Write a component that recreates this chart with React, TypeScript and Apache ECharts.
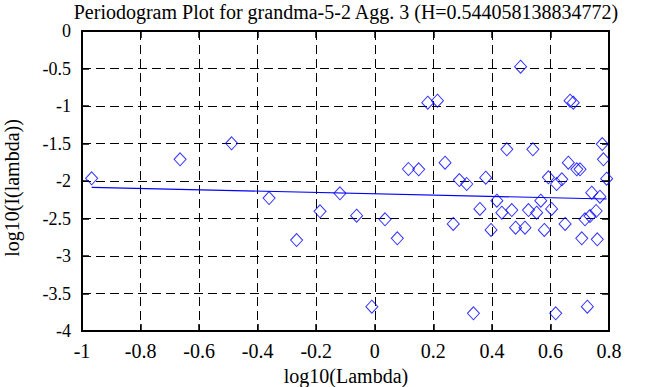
import React, { useEffect, useRef } from "react";
import * as echarts from "echarts";

const TITLE = "Periodogram Plot for grandma-5-2 Agg. 3 (H=0.544058138834772)";
const X_NAME = "log10(Lambda)";
const Y_NAME = "log10(I(lambda))";

const logLambda = [
  -0.967, -0.665, -0.489, -0.361, -0.267, -0.187, -0.119, -0.062, -0.01, 0.035,
  0.077, 0.115, 0.15, 0.181, 0.214, 0.24, 0.268, 0.289, 0.314, 0.337,
  0.359, 0.379, 0.397, 0.417, 0.434, 0.451, 0.468, 0.481, 0.498, 0.513,
  0.525, 0.54, 0.553, 0.567, 0.579, 0.593, 0.604, 0.618, 0.621, 0.639,
  0.65, 0.661, 0.667, 0.678, 0.69, 0.701, 0.707, 0.718, 0.726, 0.735,
  0.741, 0.756, 0.76, 0.769, 0.777, 0.781, 0.792,
];
const logI = [
  -1.964, -1.711, -1.497, -2.227, -2.787, -2.404, -2.164, -2.463, -3.676, -2.511,
  -2.764, -1.84, -1.844, -0.956, -0.929, -1.756, -2.573, -1.987, -2.04, -3.764,
  -2.373, -1.956, -2.653, -2.263, -2.423, -1.577, -2.387, -2.623, -0.476, -2.623,
  -2.387, -1.577, -2.423, -2.263, -2.653, -1.951, -2.373, -3.764, -2.04, -1.977,
  -2.573, -1.756, -0.929, -0.956, -1.844, -1.844, -2.764, -2.511, -3.676, -2.467,
  -2.156, -2.4, -2.777, -2.209, -1.507, -1.711, -1.969,
];
const fitX = [-0.967, 0.792];
const fitY = [-2.084, -2.24];

const FONT = "Liberation Serif";

export default function App() {
  const ref = useRef<HTMLDivElement>(null);
  useEffect(() => {
    if (!ref.current) return;
    const chart = echarts.init(ref.current, null, { renderer: "svg" });
    const pts = logLambda.map((x, i) => [x, logI[i]]);
    const fit = fitX.map((x, i) => [x, fitY[i]]);
    const tick = { show: true, inside: true, length: 7, lineStyle: { color: "#000", width: 1.5 } };
    const xCommon = { type: "value", min: -1, max: 0.8, interval: 0.2 };
    const yCommon = { type: "value", min: -4, max: 0, interval: 0.5 };
    const fmt = (v: number) => String(Math.round(v * 10) / 10);
    const lbl = { color: "#000", fontFamily: FONT, fontWeight: "normal" };
    chart.setOption({
      animation: false,
      backgroundColor: "#fff",
      textStyle: { fontFamily: FONT, fontSize: 20, color: "#000" },
      grid: {
        left: 82, right: 49, top: 31, bottom: 56,
        show: true, borderColor: "#000", borderWidth: 2, backgroundColor: "transparent",
      },
      xAxis: [
        {
          ...xCommon,
          position: "bottom",
          axisLine: { show: true, onZero: false, lineStyle: { color: "#000", width: 2 } },
          axisTick: tick,
          axisLabel: { ...lbl, fontSize: 20, margin: 10, formatter: fmt },
          splitLine: { show: true, lineStyle: { color: "#000", width: 1, type: [9, 5] } },
        },
        {
          ...xCommon,
          position: "top",
          axisLine: { show: true, onZero: false, lineStyle: { color: "#000", width: 2 } },
          axisTick: tick,
          axisLabel: { show: false },
          splitLine: { show: false },
        },
      ],
      yAxis: [
        {
          ...yCommon,
          position: "left",
          axisLine: { show: true, onZero: false, lineStyle: { color: "#000", width: 2 } },
          axisTick: tick,
          axisLabel: { ...lbl, fontSize: 18, margin: 11, formatter: fmt },
          splitLine: { show: true, lineStyle: { color: "#000", width: 1, type: [9, 5] } },
        },
        {
          ...yCommon,
          position: "right",
          axisLine: { show: true, onZero: false, lineStyle: { color: "#000", width: 2 } },
          axisTick: tick,
          axisLabel: { show: false },
          splitLine: { show: false },
        },
      ],
      graphic: [
        {
          type: "text", x: 346, y: 12,
          style: { text: TITLE, fill: "#000", font: `20px ${FONT}`, align: "center", verticalAlign: "middle" },
        },
        {
          type: "text", x: 346, y: 376,
          style: { text: X_NAME, fill: "#000", font: `20px ${FONT}`, align: "center", verticalAlign: "middle" },
        },
        {
          type: "text", x: 12, y: 188, rotation: Math.PI / 2,
          style: { text: Y_NAME, fill: "#000", font: `20px ${FONT}`, align: "center", verticalAlign: "middle" },
        },
      ],
      series: [
        {
          type: "scatter",
          data: pts,
          symbol: "diamond",
          symbolSize: [12, 13],
          itemStyle: { color: "rgba(0,0,0,0)", borderColor: "#0000ff", borderWidth: 1 },
          z: 3,
        },
        {
          type: "line",
          data: fit,
          showSymbol: false,
          symbol: "none",
          lineStyle: { color: "#0000ff", width: 1.2 },
          z: 4,
        },
      ],
    });
    return () => chart.dispose();
  }, []);
  return <div ref={ref} style={{ width: 658, height: 387, position: "absolute", left: 0, top: 0 }} />;
}
